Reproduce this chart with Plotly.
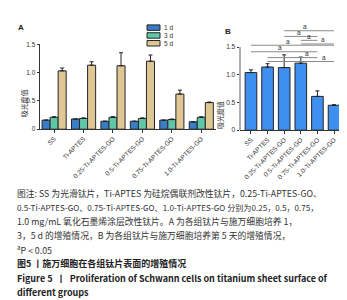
import plotly.graph_objects as go

groups = ["SS", "Ti-APTES", "0.25-Ti-APTES-GO", "0.5-Ti-APTES-GO", "0.75-Ti-APTES-GO", "1.0-Ti-APTES-GO"]
series_names = ["1 d", "3 d", "5 d"]
a_1d = [0.16, 0.18, 0.14, 0.14, 0.16, 0.13]
a_3d = [0.21, 0.19, 0.21, 0.19, 0.17, 0.21]
a_5d = [1.03, 1.13, 1.12, 1.20, 0.62, 0.47]
a_1d_err = [0.0, 0.0, 0.0, 0.0, 0.0, 0.0]
a_3d_err = [0.01, 0.01, 0.01, 0.01, 0.01, 0.01]
a_5d_err = [0.05, 0.06, 0.23, 0.11, 0.07, 0.01]
b_vals = [1.04, 1.14, 1.13, 1.21, 0.61, 0.45]
b_err = [0.05, 0.06, 0.23, 0.11, 0.10, 0.01]
yticks = [0, 0.5, 1.0, 1.5]
yticktext = ["0", "0.5", "1.0", "1.5"]
y_title = "吸光度值"
# significance brackets (from index, to index, label x position in category units)
brackets = [(2, 5, 3.25), (2, 4, 2.9), (3, 4, 3.5), (3, 5, 4.34), (0, 5, 2.23), (0, 4, 1.75), (1, 4, 3.37), (1, 5, 4.4)]
bracket_heights = [1.795, 1.693, 1.622, 1.557, 1.534, 1.416, 1.31, 1.24]
sig_label = "a"

caption_lines = [
    "图注: SS 为光滑钛片，Ti-APTES 为硅烷偶联剂改性钛片，0.25-Ti-APTES-GO、",
    "0.5-Ti-APTES-GO、0.75-Ti-APTES-GO、1.0-Ti-APTES-GO 分别为0.25，0.5，0.75，",
    "1.0 mg/mL 氧化石墨烯涂层改性钛片。A 为各组钛片与施万细胞培养 1，",
    "3，5 d 的增殖情况，B 为各组钛片与施万细胞培养第 5 天的增殖情况，",
    "<sup>a</sup>P < 0.05",
]
caption_sizes = [8.8, 8.1, 8.8, 8.8, 8.8]
title_lines = [
    "图5 丨施万细胞在各组钛片表面的增殖情况",
    "Figure 5  丨  Proliferation of Schwann cells on titanium sheet surface of",
    "different groups",
]

W, H = 347, 300
colors_a = ["#3b7cc6", "#5fc7a7", "#dfc695"]
color_b = "#3f8ff0"
edge = "#262626"
tick_font = dict(family="Liberation Sans, Arial", size=6.5, color="#333")

def px_x(p):
    return p / W

def px_y(p):
    return 1 - p / H

fig = go.Figure()
a_vals = [a_1d, a_3d, a_5d]
a_errs = [a_1d_err, a_3d_err, a_5d_err]
for name, vals, errs, col in zip(series_names, a_vals, a_errs, colors_a):
    fig.add_trace(go.Bar(
        x=list(range(len(groups))), y=vals, name=name,
        marker=dict(color=col, line=dict(color=edge, width=1)),
        error_y=dict(type="data", array=errs, arrayminus=[0] * len(errs), symmetric=False,
                     color="#222", thickness=1, width=2),
        xaxis="x", yaxis="y", showlegend=False, cliponaxis=False,
    ))

fig.add_trace(go.Bar(
    x=list(range(len(groups))), y=b_vals, name="5 d", width=0.7,
    marker=dict(color=color_b, line=dict(color=edge, width=1)),
    error_y=dict(type="data", array=b_err, arrayminus=[0] * len(b_err), symmetric=False,
                 color="#222", thickness=1, width=2),
    xaxis="x2", yaxis="y2", showlegend=False, cliponaxis=False,
))

axis_common = dict(showgrid=False, zeroline=False, ticks="outside", ticklen=2.5, tickwidth=0.8,
                   tickcolor="#333", linecolor="#333", linewidth=0.8, tickfont=tick_font)

fig.update_layout(
    width=W, height=H, margin=dict(l=0, r=0, t=0, b=0),
    paper_bgcolor="white", plot_bgcolor="white",
    barmode="group", bargap=0.18, bargroupgap=0.0,
    xaxis=dict(domain=[px_x(32), px_x(208)], range=[-0.48, 5.5], tickmode="array",
               tickvals=list(range(len(groups))), ticktext=groups, tickangle=-45,
               showline=True, anchor="y", **axis_common),
    yaxis=dict(domain=[px_y(120), px_y(33)], range=[0, 1.5], tickmode="array",
               tickvals=yticks, ticktext=yticktext, showline=True, anchor="x", **axis_common),
    xaxis2=dict(domain=[px_x(232), px_x(336)], range=[-0.66, 5.6], tickmode="array",
                tickvals=list(range(len(groups))), ticktext=groups, tickangle=-45,
                showline=True, anchor="y2", **axis_common),
    yaxis2=dict(domain=[px_y(121), px_y(17)], range=[0, 1.834], tickmode="array",
                tickvals=yticks, ticktext=yticktext, showline=False, anchor="x2", **axis_common),
)

shapes = []
# B y-axis line only up to 1.5
shapes.append(dict(type="line", xref="x2 domain", yref="y2", x0=0, x1=0, y0=0, y1=1.5,
                   line=dict(color="#333", width=0.8)))
annotations = []
for (i0, i1, lx), h in zip(brackets, bracket_heights):
    shapes.append(dict(type="line", xref="x2", yref="y2", x0=i0, x1=i1, y0=h, y1=h,
                       line=dict(color="#8a8a8a", width=1)))
    annotations.append(dict(xref="x2", yref="y2", x=lx, y=h, text=sig_label, showarrow=False,
                            yanchor="bottom", yshift=-1.5, font=dict(family="Liberation Sans", size=6.5, color="#333")))

# legend for panel A
for k, (name, col) in enumerate(zip(series_names, colors_a)):
    yc = 16 + 8 * k
    shapes.append(dict(type="rect", xref="paper", yref="paper", x0=px_x(139), x1=px_x(152),
                       y0=px_y(yc + 2.8), y1=px_y(yc - 2.8), fillcolor=col,
                       line=dict(color=edge, width=1)))
    annotations.append(dict(xref="paper", yref="paper", x=px_x(154), y=px_y(yc), text=name,
                            showarrow=False, xanchor="left", yanchor="middle",
                            font=dict(family="Liberation Sans", size=6.5, color="#333")))

# panel letters
annotations.append(dict(xref="paper", yref="paper", x=px_x(8), y=px_y(16), text="<b>A</b>", showarrow=False,
                        xanchor="left", yanchor="middle", font=dict(family="Liberation Sans", size=8, color="#222")))
annotations.append(dict(xref="paper", yref="paper", x=px_x(215), y=px_y(20), text="<b>B</b>", showarrow=False,
                        xanchor="left", yanchor="middle", font=dict(family="Liberation Sans", size=8, color="#222")))
# y axis titles
annotations.append(dict(xref="paper", yref="paper", x=px_x(9), y=px_y(77), text=y_title, textangle=-90,
                        showarrow=False, font=dict(family="Noto Sans CJK SC", size=7, color="#333")))
annotations.append(dict(xref="paper", yref="paper", x=px_x(212), y=px_y(89), text=y_title, textangle=-90,
                        showarrow=False, font=dict(family="Noto Sans CJK SC", size=7, color="#333")))

# caption
for k, (line, sz) in enumerate(zip(caption_lines, caption_sizes)):
    annotations.append(dict(xref="paper", yref="paper", x=px_x(7), y=px_y(186 + 14.4 * k), text=line,
                            showarrow=False, xanchor="left", yanchor="middle",
                            font=dict(family="Noto Sans CJK SC, Liberation Sans", size=sz, color="#333")))
for k, line in enumerate(title_lines):
    annotations.append(dict(xref="paper", yref="paper", x=px_x(7), y=px_y(258 + 14.6 * k), text="<b>" + line + "</b>",
                            showarrow=False, xanchor="left", yanchor="middle",
                            font=dict(family="Noto Sans CJK SC, Liberation Sans", size=9, color="#222")))

fig.update_layout(shapes=shapes, annotations=annotations)
fig.write_html("out.html")
